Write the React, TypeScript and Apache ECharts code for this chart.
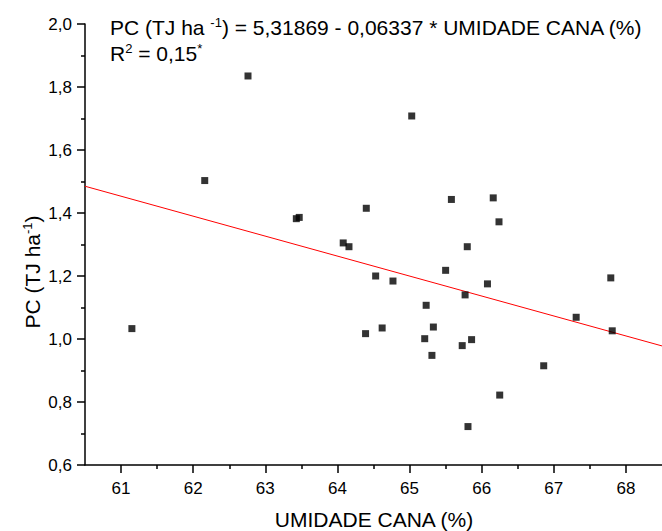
import React, { useEffect, useRef } from "react";
import * as echarts from "echarts";

const moisture = [61.15, 62.16, 62.76, 63.43, 63.47, 64.08, 64.16, 64.40, 64.53, 64.39, 64.62, 64.77, 65.03, 65.21, 65.23, 65.31, 65.33, 65.50, 65.58, 65.73, 65.77, 65.80, 65.81, 65.86, 66.08, 66.16, 66.24, 66.25, 66.86, 67.31, 67.79, 67.81];
const pc = [1.033, 1.503, 1.835, 1.382, 1.386, 1.305, 1.293, 1.415, 1.200, 1.017, 1.035, 1.184, 1.708, 1.001, 1.107, 0.948, 1.038, 1.218, 1.443, 0.979, 1.140, 1.293, 0.722, 0.998, 1.175, 1.448, 1.372, 0.822, 0.915, 1.069, 1.194, 1.026];
const fitX = [60.5, 68.5];
const fitY = [1.485, 0.978];
const xMajorTicks = [61, 62, 63, 64, 65, 66, 67, 68];
const xMinorTicks = [61.5, 62.5, 63.5, 64.5, 65.5, 66.5, 67.5];

const FONT = "'Liberation Sans', Arial, sans-serif";

export default function App() {
  const ref = useRef<HTMLDivElement>(null);
  useEffect(() => {
    if (!ref.current) return;
    const chart = echarts.init(ref.current, undefined, { renderer: "svg" });
    const axisLine = { show: true, lineStyle: { color: "#000", width: 1.5 } };
    const rich = {
      n: { fontSize: 21, fontFamily: FONT, fill: "#000", lineHeight: 22, verticalAlign: "bottom" },
      s: { fontSize: 13, fontFamily: FONT, fill: "#000", lineHeight: 22, verticalAlign: "top" },
    };
    chart.setOption({
      animation: false,
      backgroundColor: "#fff",
      grid: { left: 85, top: 24, width: 579, height: 441, containLabel: false },
      xAxis: [
        {
          type: "value",
          min: 60.5,
          max: 68.5,
          interval: 0.5,
          axisLine,
          axisTick: { show: true, length: 8, lineStyle: { color: "#000", width: 1.5 }, customValues: xMajorTicks },
          axisLabel: { show: true, customValues: xMajorTicks, color: "#000", fontSize: 17, fontFamily: FONT, margin: 15 },
          splitLine: { show: false },
        },
        {
          type: "value",
          min: 60.5,
          max: 68.5,
          interval: 0.5,
          position: "bottom",
          axisLine: { show: false },
          axisTick: { show: true, length: 4, lineStyle: { color: "#000", width: 1.5 }, customValues: xMinorTicks },
          axisLabel: { show: false },
          splitLine: { show: false },
        },
      ],
      yAxis: {
        type: "value",
        min: 0.6,
        max: 2.0,
        interval: 0.2,
        axisLine,
        axisTick: { show: true, length: 8, lineStyle: { color: "#000", width: 1.5 } },
        minorTick: { show: true, splitNumber: 2, length: 4, lineStyle: { color: "#000", width: 1.5 } },
        axisLabel: {
          color: "#000",
          fontSize: 17,
          fontFamily: FONT,
          margin: 13,
          formatter: (v: number) => v.toFixed(1).replace(".", ","),
        },
        splitLine: { show: false },
      },
      series: [
        {
          type: "line",
          data: fitX.map((x, i) => [x, fitY[i]]),
          showSymbol: false,
          symbol: "none",
          lineStyle: { color: "#ff0000", width: 1 },
          z: 1,
        },
        {
          type: "scatter",
          data: moisture.map((x, i) => [x, pc[i]]),
          symbol: "rect",
          symbolSize: 7,
          itemStyle: { color: "#000" },
          z: 2,
        },
      ],
      graphic: [
        {
          type: "text",
          x: 110,
          y: 16,
          style: {
            text: "{n|PC (TJ ha }{s|-1}{n|) = 5,31869 - 0,06337 * UMIDADE CANA (%)}",
            rich,
          },
        },
        {
          type: "text",
          x: 110,
          y: 42,
          style: {
            text: "{n|R}{s|2}{n| = 0,15}{s|*}",
            rich,
          },
        },
        {
          type: "text",
          x: 32,
          y: 272,
          rotation: Math.PI / 2,
          style: {
            text: "{n|PC (TJ ha}{s|-1}{n|)}",
            align: "center",
            verticalAlign: "middle",
            rich,
          },
        },
        {
          type: "text",
          x: 374,
          y: 509,
          style: {
            text: "UMIDADE CANA (%)",
            align: "center",
            fontSize: 21,
            fontFamily: FONT,
            fill: "#000",
          },
        },
      ],
    });
    return () => chart.dispose();
  }, []);
  return <div ref={ref} style={{ width: 662, height: 531, position: "absolute", left: 0, top: 0 }} />;
}
